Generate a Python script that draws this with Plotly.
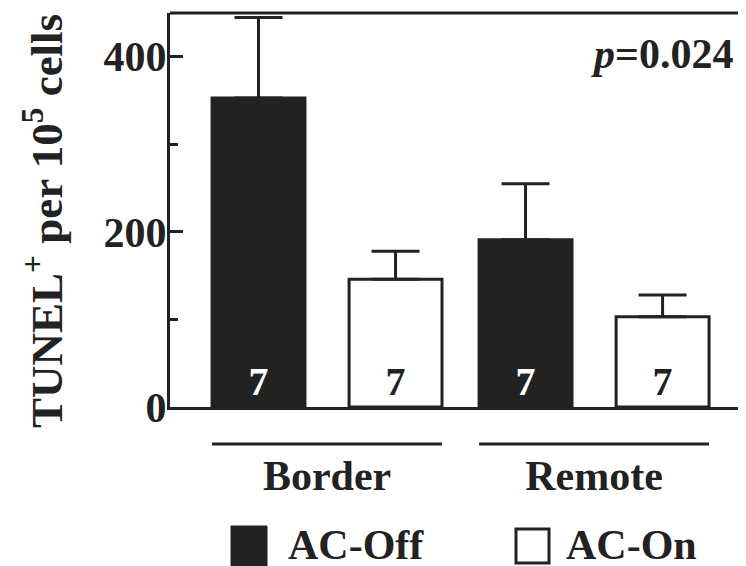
import plotly.graph_objects as go

categories = ["Border", "Remote"]
ac_off = [353, 191]
ac_off_err = [92, 64]
ac_on = [146, 103]
ac_on_err = [32, 25]
n_off = ["7", "7"]
n_on = ["7", "7"]
y_ticks = [0, 200, 400]
p_text = "<i>p</i>=0.024"

INK = "#222222"
FONT = "Liberation Serif"
FS = 42

# the page body adds an 8px margin; size the figure so it fills the window
PAGE = 8
W, H = 746 - PAGE, 566 - PAGE
L, R, T, B = 170 - PAGE, 0, 13 - PAGE, 159
PW, PH = W - L - R, H - T - B

# helpers: reference-window pixel -> paper coords
def px_x(px):
    return (px - 170) / PW

def px_y(py):
    return (407 - py) / PH

bar_w = 0.348
off_offset = -0.4306
on_offset = 0.0826

fig = go.Figure()
fig.add_trace(go.Bar(
    x=categories, y=ac_off, width=bar_w, offset=off_offset,
    marker=dict(color=INK, line=dict(color=INK, width=3)),
    error_y=dict(type="data", symmetric=False, array=ac_off_err,
                 arrayminus=[0, 0], color=INK, thickness=3, width=24),
    text=n_off, textposition="inside", insidetextanchor="start",
    textangle=0,
    insidetextfont=dict(family=FONT, size=40, color="white", weight="bold"),
    showlegend=False, name="AC-Off",
))
fig.add_trace(go.Bar(
    x=categories, y=ac_on, width=bar_w, offset=on_offset,
    marker=dict(color="white", line=dict(color=INK, width=3)),
    error_y=dict(type="data", symmetric=False, array=ac_on_err,
                 arrayminus=[0, 0], color=INK, thickness=3, width=24),
    text=n_on, textposition="inside", insidetextanchor="start",
    textangle=0,
    insidetextfont=dict(family=FONT, size=40, color=INK, weight="bold"),
    showlegend=False, name="AC-On",
))

shapes = []
# top frame line
shapes.append(dict(type="line", xref="paper", yref="paper", x0=0, x1=1, y0=1, y1=1,
                   line=dict(color=INK, width=3)))
# group underlines
for i in range(len(categories)):
    shapes.append(dict(type="line", xref="x", yref="paper",
                       x0=i + off_offset, x1=i + on_offset + bar_w,
                       y0=px_y(444), y1=px_y(444), line=dict(color=INK, width=3)))
# legend swatches
shapes.append(dict(type="rect", xref="paper", yref="paper",
                   x0=px_x(231), x1=px_x(267), y0=px_y(566), y1=px_y(526),
                   fillcolor=INK, line=dict(color=INK, width=1)))
shapes.append(dict(type="rect", xref="paper", yref="paper",
                   x0=px_x(516), x1=px_x(549), y0=px_y(563), y1=px_y(529),
                   fillcolor="white", line=dict(color=INK, width=3)))

annotations = [
    dict(text="TUNEL<sup>+</sup> per 10<sup>5</sup> cells", xref="paper", yref="paper",
         x=px_x(43), y=px_y(221), xanchor="center", yanchor="middle", textangle=-90,
         showarrow=False, font=dict(family=FONT, size=45, color=INK, weight="bold")),
    dict(text=p_text, xref="paper", yref="paper", x=px_x(735), y=px_y(54),
         xanchor="right", yanchor="middle", showarrow=False,
         font=dict(family=FONT, size=FS, color=INK, weight="bold")),
    dict(text="AC-Off", xref="paper", yref="paper", x=px_x(286), y=px_y(545),
         xanchor="left", yanchor="middle", showarrow=False,
         font=dict(family=FONT, size=FS, color=INK, weight="bold")),
    dict(text="AC-On", xref="paper", yref="paper", x=px_x(564), y=px_y(545),
         xanchor="left", yanchor="middle", showarrow=False,
         font=dict(family=FONT, size=FS, color=INK, weight="bold")),
]

fig.update_layout(
    width=W, height=H,
    margin=dict(l=L, r=R, t=T, b=B, pad=0, autoexpand=False),
    paper_bgcolor="white", plot_bgcolor="white",
    barmode="overlay",
    shapes=shapes, annotations=annotations,
    xaxis=dict(range=[-0.588, 1.569], showline=True, linecolor=INK, linewidth=3,
               showgrid=False, zeroline=False, ticks="outside", ticklen=30,
               tickcolor="rgba(0,0,0,0)", automargin=False,
               tickfont=dict(family=FONT, size=FS, color=INK, weight="bold")),
    yaxis=dict(range=[0, 450], showline=True, linecolor=INK, linewidth=3,
               showgrid=False, zeroline=False, ticks="inside", ticklen=13,
               tickwidth=3, tickcolor=INK, automargin=False,
               ticklabelstandoff=-8,
               tickvals=y_ticks, ticktext=[str(v) for v in y_ticks],
               minor=dict(dtick=100, ticks="inside", ticklen=8, tickwidth=3,
                          tickcolor=INK),
               tickfont=dict(family=FONT, size=FS, color=INK, weight="bold")),
)

fig.write_html("out.html")
